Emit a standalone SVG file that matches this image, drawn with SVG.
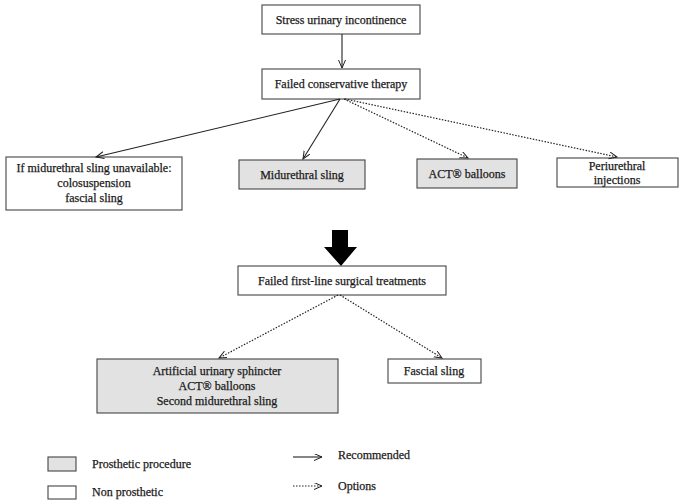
<svg xmlns="http://www.w3.org/2000/svg" width="685" height="504" viewBox="0 0 685 504" font-family="Liberation Serif">
<defs>
<marker id="ah" markerWidth="10" markerHeight="8" refX="8" refY="3.5" orient="auto" markerUnits="userSpaceOnUse">
<path d="M0,0 L8,3.5 L0,7" fill="none" stroke="#222" stroke-width="1"/>
</marker>
<style>
text{font-size:12px;fill:#1a1a1a;stroke:#1a1a1a;stroke-width:0.25;text-anchor:middle;dominant-baseline:central}
.lt{text-anchor:start}
.w{fill:#fff;stroke:#444;stroke-width:1.1}
.g{fill:#e2e2e2;stroke:#444;stroke-width:1.1}
.s{stroke:#222;stroke-width:1.1;fill:none;marker-end:url(#ah)}
.d{stroke:#222;stroke-width:1.2;fill:none;stroke-dasharray:1.5 1.5;marker-end:url(#ah)}
</style>
</defs>
<rect width="685" height="504" fill="#fff"/>
<g id="n1"><rect class="w" x="262" y="5" width="158" height="29"/><text x="341" y="19.5" font-family="Liberation Serif">Stress urinary incontinence</text></g>
<g id="n2"><rect class="w" x="262" y="69" width="158" height="30"/><text x="341" y="84" font-family="Liberation Serif">Failed conservative therapy</text></g>
<g id="n3"><rect class="w" x="6" y="157" width="176" height="53"/><text x="94" y="168" font-family="Liberation Serif">If midurethral sling unavailable:</text><text x="94" y="183" font-family="Liberation Serif">colosuspension</text><text x="94" y="198" font-family="Liberation Serif">fascial sling</text></g>
<g id="n4"><rect class="g" x="239" y="160" width="126" height="29"/><text x="302" y="175" font-family="Liberation Serif">Midurethral sling</text></g>
<g id="n5"><rect class="g" x="417" y="159" width="100" height="29"/><text x="467" y="174" font-family="Liberation Serif">ACT® balloons</text></g>
<g id="n6"><rect class="w" x="557" y="158" width="121" height="29"/><text x="617" y="166" font-family="Liberation Serif">Periurethral</text><text x="617" y="180" font-family="Liberation Serif">injections</text></g>
<g id="bigarrow"><path d="M332,230 H348 V247 H357 L341,266 L324,247 H332 Z" fill="#000"/></g>
<g id="n7"><rect class="w" x="238" y="266" width="208" height="29"/><text x="342" y="281" font-family="Liberation Serif">Failed first-line surgical treatments</text></g>
<g id="n8"><rect class="g" x="97" y="359" width="241" height="54"/><text x="217" y="371" font-family="Liberation Serif">Artificial urinary sphincter</text><text x="217" y="386" font-family="Liberation Serif">ACT® balloons</text><text x="217" y="401" font-family="Liberation Serif">Second midurethral sling</text></g>
<g id="n9"><rect class="w" x="388" y="359" width="93" height="24"/><text x="434" y="371" font-family="Liberation Serif">Fascial sling</text></g>
<g id="connectors">
<line class="s" x1="342" y1="34" x2="342" y2="68"/>
<line class="s" x1="340" y1="99" x2="96" y2="157"/>
<line class="s" x1="340" y1="99" x2="303" y2="159"/>
<line class="d" x1="344" y1="99" x2="468" y2="158"/>
<line class="d" x1="345" y1="99" x2="617" y2="157"/>
<line class="d" x1="338" y1="295" x2="219" y2="358"/>
<line class="d" x1="340" y1="295" x2="442" y2="358"/>
</g>
<g id="legend">
<rect class="g" x="48" y="457" width="28" height="14"/>
<text class="lt" x="92" y="464" font-family="Liberation Serif">Prosthetic procedure</text>
<rect class="w" x="48" y="486" width="28" height="13"/>
<text class="lt" x="92" y="492" font-family="Liberation Serif">Non prosthetic</text>
<line class="s" x1="293" y1="457" x2="322" y2="457"/>
<text class="lt" x="338" y="455" font-family="Liberation Serif">Recommended</text>
<line class="d" x1="293" y1="486" x2="322" y2="486"/>
<text class="lt" x="338" y="486" font-family="Liberation Serif">Options</text>
</g>
</svg>
